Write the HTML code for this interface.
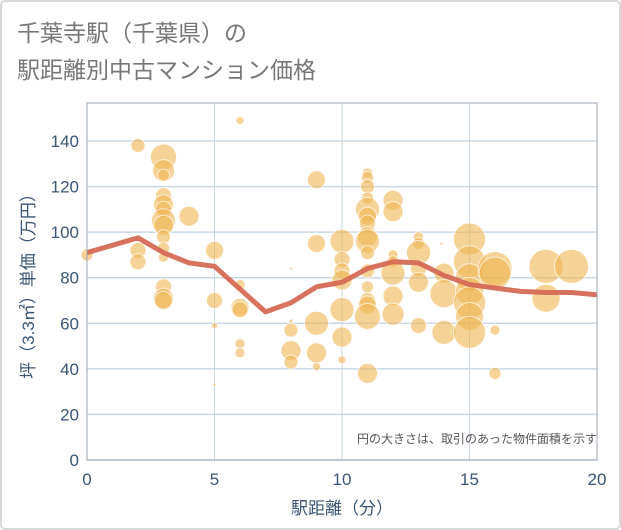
<!DOCTYPE html>
<html><head><meta charset="utf-8">
<style>
body{margin:0;background:#fff;}
svg{display:block;font-family:"Liberation Sans","Noto Sans CJK JP",sans-serif;}
</style></head>
<body>
<svg id="chart" width="621" height="530" viewBox="0 0 621 530">
<rect x="1" y="1" width="619" height="528" rx="4" fill="#fff" stroke="#d8d8d8" stroke-width="2"/>
<text x="17" y="41" font-size="23" fill="#777">千葉寺駅（千葉県）の</text>
<text x="17" y="78" font-size="23" fill="#777">駅距離別中古マンション価格</text>
<g id="grid"></g>
<g id="bubbles"></g>
<g id="trend"></g>
<rect x="87" y="103" width="510" height="357" fill="none" stroke="#9aa6b2" stroke-width="1"/>
<g id="ticks"></g>
<text x="597" y="443" font-size="12" fill="#555" text-anchor="end">円の大きさは、取引のあった物件面積を示す</text>
<text x="342" y="514" font-size="17" fill="#3a5575" text-anchor="middle">駅距離（分）</text>
<text transform="translate(34,282) rotate(-90)" font-size="17" fill="#3a5575" text-anchor="middle">坪（3.3㎡）単価（万円）</text>
</svg>
<script>
const xTicks=[0,5,10,15,20];
const yTicks=[0,20,40,60,80,100,120,140];
const bubbleX=[0,2,2,2,3,3,3,3,3,3,3,3,3,3,3,3,3,3,4,5,5,5,5,6,6,6,6,6,6,8,8,8,8,8,9,9,9,9,9,10,10,10,10,10,10,10,11,11,11,11,11,11,11,11,11,11,11,11,11,11,11,11,12,12,12,12,12,12,12,13,13,13,13,13,13,13.9,14,14,14,15,15,15,15,15,15,15,16,16,16,16,18,18,19];
const bubbleY=[90,138,92,87,133,127,125,116,112,110,105,103,98,93,89,76,71,70,107,92,70,59,33,149,77,67,66,51,47,84,61,57,48,43,123,95,60,47,41,96,88,83,79,66,54,44,126,124,120,115,110,107,104,98,96,91,83,76,70,68,63,38,114,109,90,87,82,72,64,98,95,91,84,78,59,95,82,73,56,97,87,80,74,69,63,56,84,82,57,38,85,71,85];
const bubbleR=[6,7,8,8,13,11,6,8,10,8,12,10,7,6,5,8,10,9,10,9,8,3,1.5,4,5,9,8,5,5,1.5,2,7,10,7,9,9,12,10,4,12,8,8,10,12,10,4,5,6,7,6,12,9,8,10,12,7,7,6,8,9,13,10,10,10,5,6,12,10,11,5,6,12,8,10,8,1.5,10,14,12,16,16,14,14,16,14,16,17,16,5,6,17,14,17];
const trendX=[0,2,3,4,5,7,8,9,10,11,12,13,14,15,16,17,18,19,20];
const trendY=[91,97.5,91,86.5,85,65,69,76,78,84,87,86.5,81,77,75.5,74,73.5,73.5,72.5];
const NS="http://www.w3.org/2000/svg";
const L=87,R=597,T=103,B=460;
const sx=v=>L+(v-0)/(20-0)*(R-L);
const sy=v=>B-(v-0)/(140-0)*(B-141);
function mk(tag,attrs,parent){const e=document.createElementNS(NS,tag);for(const k in attrs)e.setAttribute(k,attrs[k]);parent.appendChild(e);return e;}
const grid=document.getElementById('grid'),ticks=document.getElementById('ticks');
yTicks.forEach(t=>{
 const l=mk('line',{x1:L,x2:R,y1:sy(t),y2:sy(t),stroke:'#c8d8e6','stroke-width':1.5},grid);
 
 
 const tx=mk('text',{x:L-8,y:sy(t)+6,'font-size':17,fill:'#3a5575','text-anchor':'end'},ticks);
 tx.textContent=t;
 
 
});
xTicks.forEach(t=>{
 const l=mk('line',{x1:sx(t),x2:sx(t),y1:T,y2:B,stroke:'#c8d8e6','stroke-width':1},grid);
 
 
 const tx=mk('text',{x:sx(t),y:B+25,'font-size':17,fill:'#3a5575','text-anchor':'middle'},ticks);
 tx.textContent=t;
 
 
});
const bg=document.getElementById('bubbles');
bubbleX.forEach((x,i)=>{
 const c=mk('circle',{cx:sx(x),cy:sy(bubbleY[i]),r:bubbleR[i],fill:'#efb552','fill-opacity':0.6,stroke:'#fff','stroke-opacity':0.7,'stroke-width':1},bg);
 
 
});
const tg=document.getElementById('trend');
const pts=trendX.map((x,i)=>sx(x)+','+sy(trendY[i])).join(' ');
const pl=mk('polyline',{points:pts,fill:'none',stroke:'#d46a55','stroke-opacity':0.95,'stroke-width':5,'stroke-linejoin':'round'},tg);


</script>
</body></html>
